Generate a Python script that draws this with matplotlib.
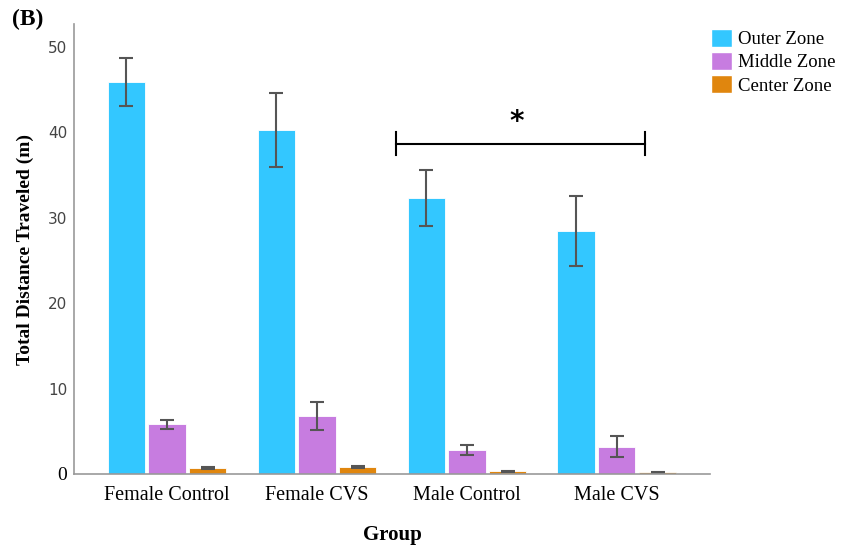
import numpy as np
import matplotlib
matplotlib.use("Agg")
import matplotlib.pyplot as plt
from matplotlib.patches import Patch

# ---------- data ----------
groups = ["Female Control", "Female CVS", "Male Control", "Male CVS"]
zones = ["Outer Zone", "Middle Zone", "Center Zone"]

outer_mean = [45.9, 40.3, 32.3, 28.5]
outer_err = [2.8, 4.3, 3.3, 4.1]
middle_mean = [5.8, 6.8, 2.8, 3.2]
middle_err = [0.5, 1.6, 0.6, 1.2]
center_mean = [0.7, 0.8, 0.3, 0.2]
center_err = [0.1, 0.1, 0.05, 0.05]

zone_colors = ["#33C7FF", "#C77CE0", "#E0860E"]
serif = ["Liberation Serif", "DejaVu Serif"]

fig = plt.figure(figsize=(8.47, 5.46), dpi=100)
ax = fig.add_axes([0.0874, 0.1319, 0.7508, 0.8241])

x = np.arange(len(groups))
step = 0.273
width = 0.247
series = [(outer_mean, outer_err), (middle_mean, middle_err), (center_mean, center_err)]
for i, (m, e) in enumerate(series):
    ax.bar(x + (i - 1) * step, m, width, yerr=e, color=zone_colors[i],
           edgecolor="white", linewidth=0.6,
           error_kw=dict(ecolor="#555555", elinewidth=1.5, capsize=5, capthick=1.5))

# ---------- significance bracket ----------
bx0, bx1, by = 1.53, 3.19, 38.7
ax.plot([bx0, bx1], [by, by], color="black", lw=1.5)
ax.plot([bx0, bx0], [by - 1.3, by + 1.3], color="black", lw=1.5)
ax.plot([bx1, bx1], [by - 1.3, by + 1.3], color="black", lw=1.5)
ax.text(2.33, by + 0.9, "*", ha="center", va="bottom",
        fontsize=20, fontweight="bold", family="DejaVu Sans")

# ---------- axes ----------
ax.set_xlim(-0.62, 3.62)
ax.set_ylim(0, 52.7)
ax.set_xticks(x)
ax.set_xticklabels(groups, family=serif, fontsize=14.5)
ax.set_yticks([0, 10, 20, 30, 40, 50])
ax.set_yticklabels(["0", "10", "20", "30", "40", "50"], fontsize=11, color="#444444")
ylabels = ax.get_yticklabels()
ylabels[0].set_family(serif)
ylabels[0].set_color("black")
ylabels[0].set_fontsize(14)
ax.tick_params(axis="both", length=0)
ax.tick_params(axis="x", pad=9)
ax.tick_params(axis="y", pad=5)
for s in ["top", "right"]:
    ax.spines[s].set_visible(False)
for s in ["left", "bottom"]:
    ax.spines[s].set_color("#999999")
    ax.spines[s].set_linewidth(1.2)

ax.set_xlabel("Group", family=serif, fontsize=15, fontweight="bold", labelpad=14)
ax.set_ylabel("Total Distance Traveled (m)", family=serif, fontsize=14,
              fontweight="bold", labelpad=10)

fig.text(0.014, 0.965, "(B)", family=serif, fontsize=17, fontweight="bold",
         ha="left", va="center")

handles = [Patch(facecolor=c, edgecolor="white") for c in zone_colors]
fig.legend(handles, zones, loc="upper left", bbox_to_anchor=(0.82, 0.978),
           frameon=False, prop=dict(family=serif, size=13.5),
           handlelength=1.1, handleheight=1.1, handletextpad=0.3, labelspacing=0.2)

fig.savefig("out.png", dpi=100)
